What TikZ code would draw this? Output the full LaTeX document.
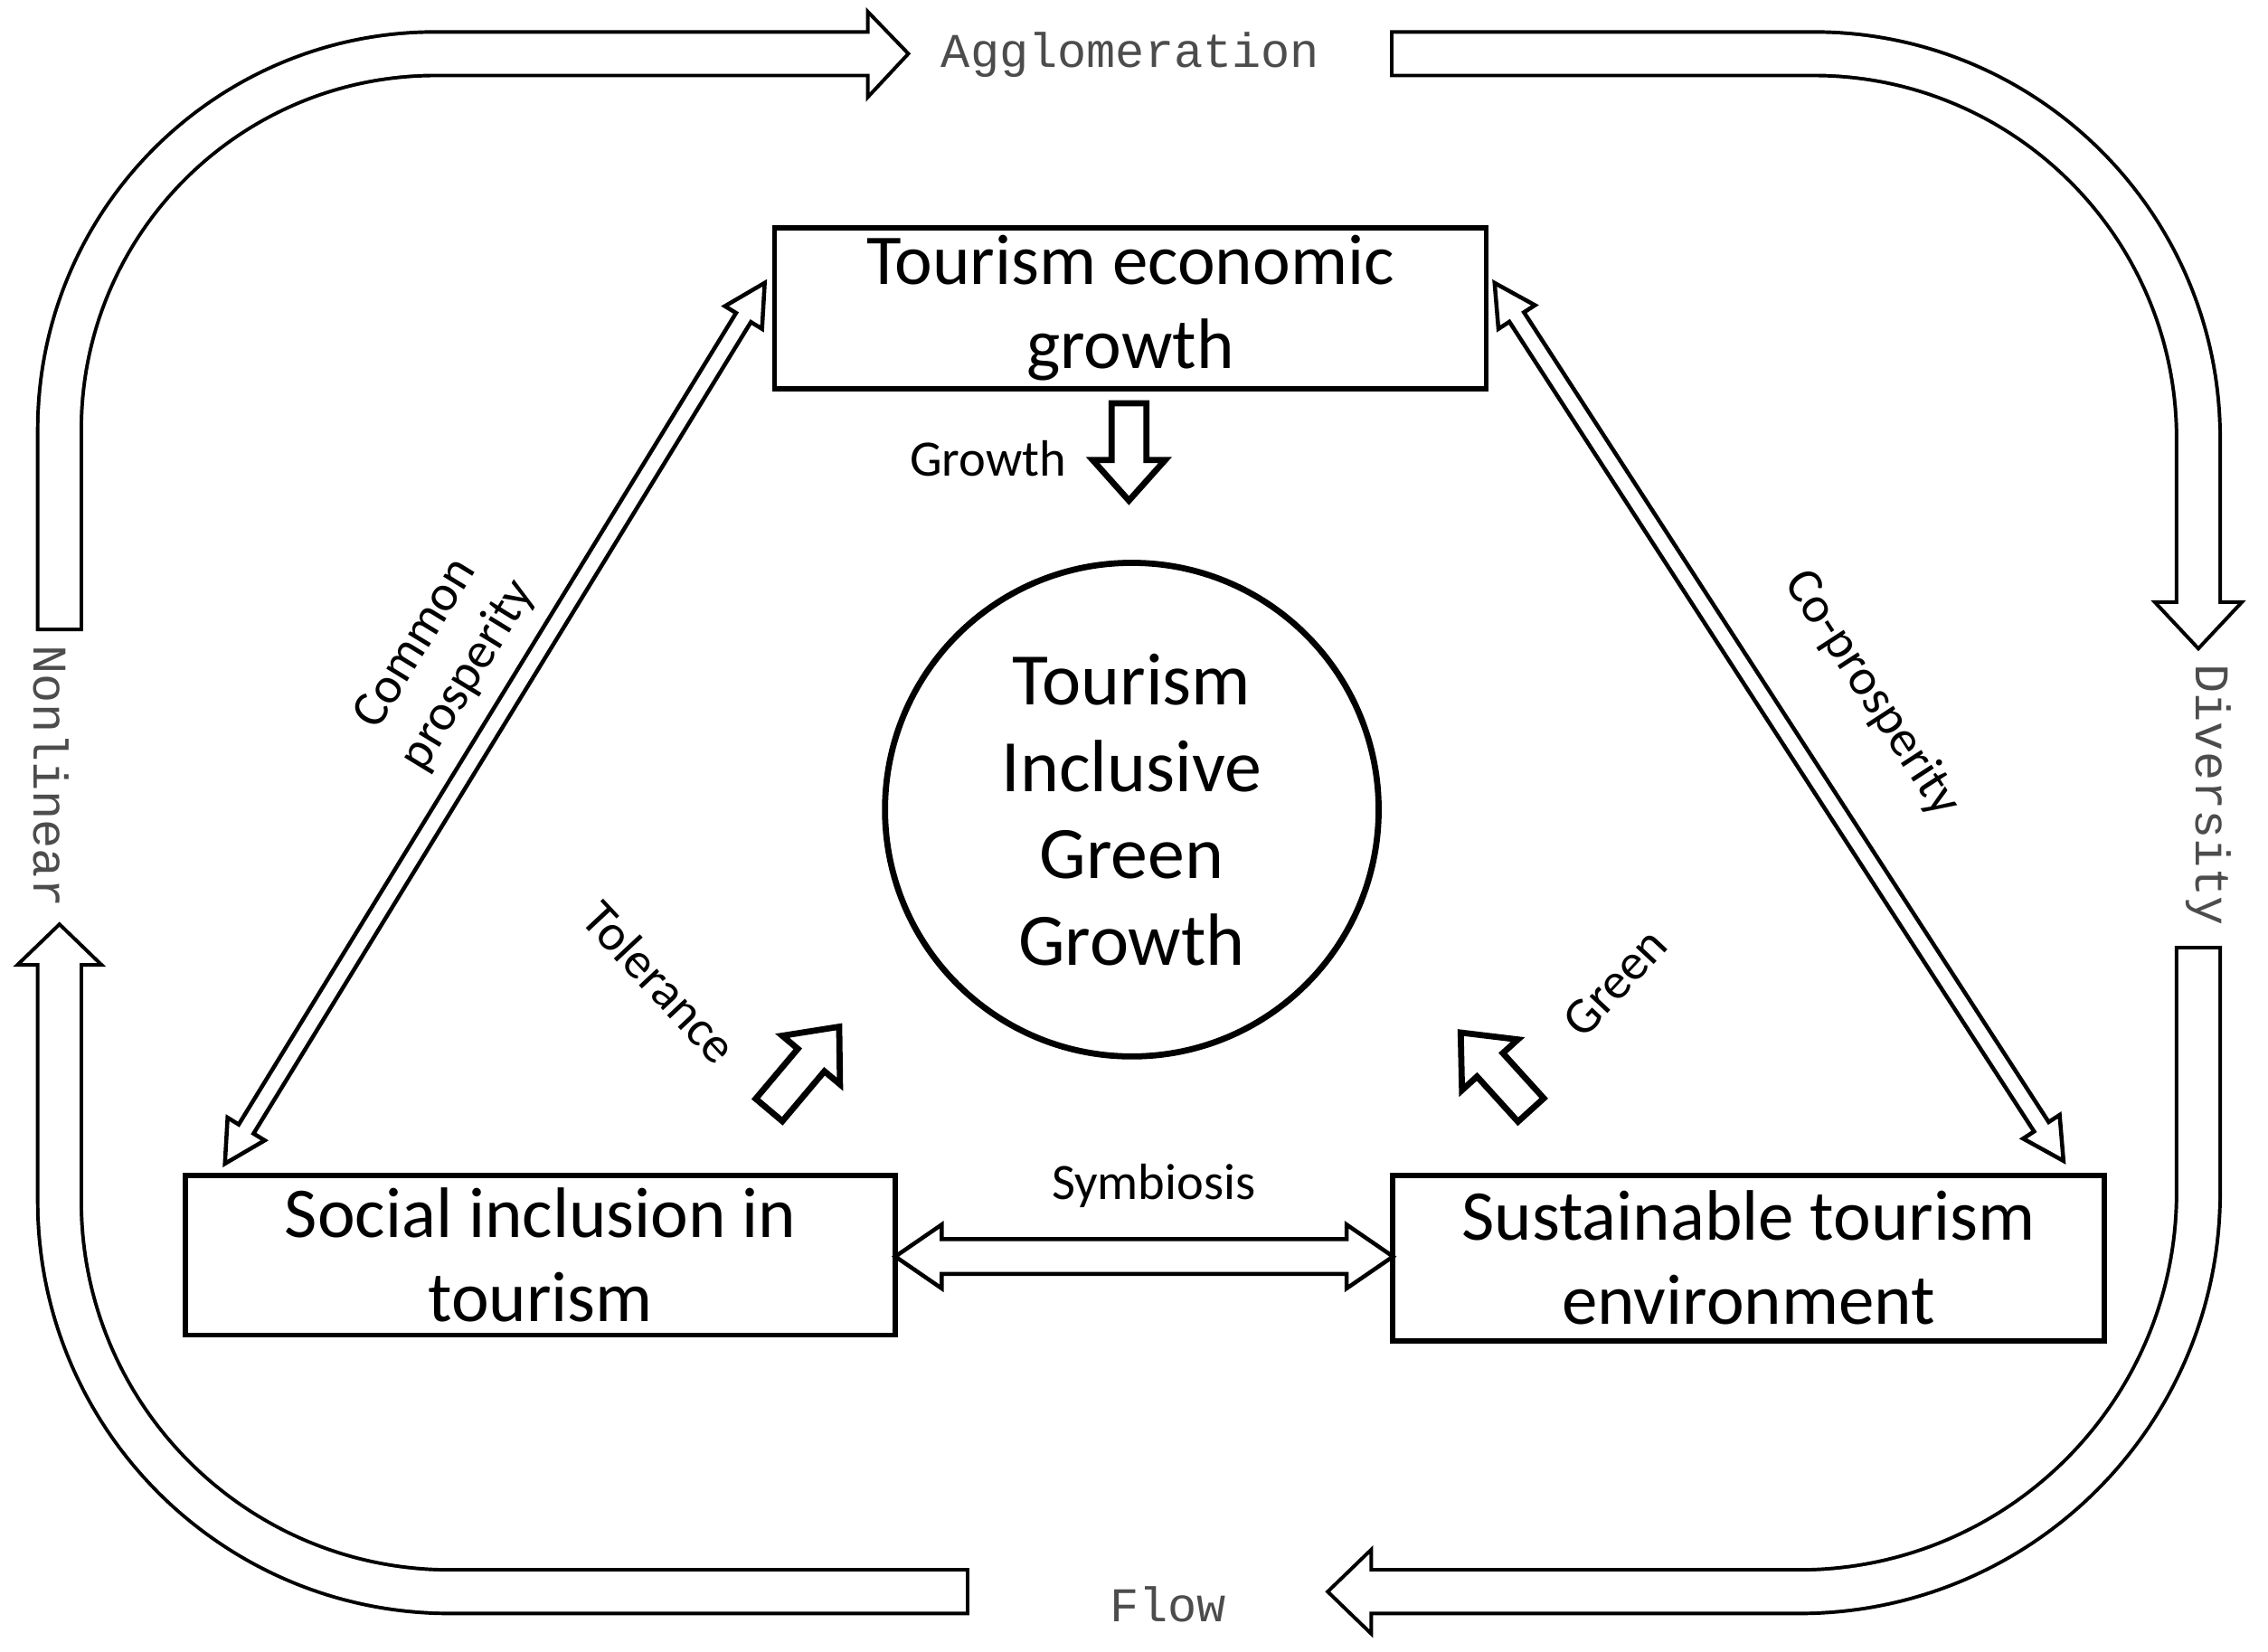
\documentclass[tikz,border=0pt]{standalone}
\usepackage{fontspec}
\setmainfont{Carlito}
\newfontfamily\outerfont{Liberation Mono}
\begin{document}
\begin{tikzpicture}[x=0.01cm,y=-0.01cm,
  box/.style={draw,line width=1pt,inner sep=0pt},
  big/.style={font=\fontsize{14}{16.5}\selectfont,align=center},
  lab/.style={font=\fontsize{10}{12}\selectfont,align=center,inner sep=1pt},
  outer/.style={font=\outerfont\fontsize{9.5}{11}\selectfont,text=black!70},
  blk/.style={line width=1.2pt,fill=white,line join=miter}]
\newcommand\singarr[7]{% x y angle L s H h
 \begin{scope}[shift={(#1,#2)},rotate=#3]
 \draw[blk] (0,-#5)--(#4-#7,-#5)--(#4-#7,-#6)--(#4,0)--(#4-#7,#6)--(#4-#7,#5)--(0,#5)--cycle;
 \end{scope}}
\newcommand\dblarr[7]{%
 \begin{scope}[shift={(#1,#2)},rotate=#3]
 \draw[line width=0.8pt,fill=white,line join=miter] (0,0)--(#7,#6)--(#7,#5)--(#4-#7,#5)--(#4-#7,#6)--(#4,0)--(#4-#7,-#6)--(#4-#7,-#5)--(#7,-#5)--(#7,-#6)--cycle;
 \end{scope}}
\newcommand\band[4]{%
 \draw[line width=0.3cm+0.7pt,rounded corners=#3] #1;
 \draw[line width=0.7pt,fill=white,line join=miter] #2;
 \draw[white,line width=0.3cm-0.7pt,rounded corners=#3,shorten <=0.7pt,shorten >=-2pt] #1;}
\useasboundingbox (0,0) rectangle (1563,1138);
\band{(41,435)--(41,37)--(598,37)}{(598,8)--(626,37)--(598,67)--cycle}{2.59cm}{}
\band{(958,37)--(1515,37)--(1515,415)}{(1485,415)--(1515,447)--(1545,415)--cycle}{2.65cm}{}
\band{(1515,652)--(1515,1097)--(945,1097)}{(945,1068)--(915,1097)--(945,1126)--cycle}{2.75cm}{}
\band{(668,1097)--(41,1097)--(41,665)}{(12,665)--(41,637)--(70,665)--cycle}{2.69cm}{}
\node[outer] (agg) at (779,38) {Agglomeration};
\node[outer,rotate=-90] (nonl) at (35,535) {Nonlinear};
\node[outer,rotate=-90] (div) at (1522,548) {Diversity};
\node[outer] (flow) at (805,1106) {Flow};
\node[box,minimum width=4.9cm,minimum height=1.11cm] (top) at (779,212.5) {};
\node[big] at (top) {Tourism economic\\growth};
\node[box,minimum width=4.89cm,minimum height=1.10cm] (left) at (372.5,865) {};
\node[big] at (left) {Social inclusion in\\tourism};
\node[box,minimum width=4.9cm,minimum height=1.14cm] (right) at (1205,867) {};
\node[big] at (right) {Sustainable tourism\\environment};
\node[circle,draw,line width=1.2pt,minimum size=3.4cm] (c) at (780,558) {};
\node[big,font=\fontsize{14.5}{17}\selectfont] at (c) {Tourism\\Inclusive\\Green\\Growth};
\singarr{778}{278}{-90}{67}{12}{25}{28}
\singarr{530}{765}{49.9}{75}{12}{26}{30}
\singarr{1055}{765}{132.2}{72}{12}{26}{30}
\dblarr{155}{802}{58.5}{712}{6}{15}{28}
\dblarr{1030}{195}{-57.06}{721}{6}{15}{28}
\dblarr{617}{866}{0}{343}{12}{22}{32}
\node[lab] (lg) at (681,316) {Growth};
\node[lab,rotate=-47] (lt) at (455,677) {Tolerance};
\node[lab,rotate=47] (lgr) at (1113,677) {Green};
\node[lab] (ls) at (795,817) {Symbiosis};
\node[lab,rotate=58.5] (lc) at (305,455) {Common\\prosperity};
\node[lab,rotate=-57] (lco) at (1290,478) {Co-prosperity};
\end{tikzpicture}
\end{document}
